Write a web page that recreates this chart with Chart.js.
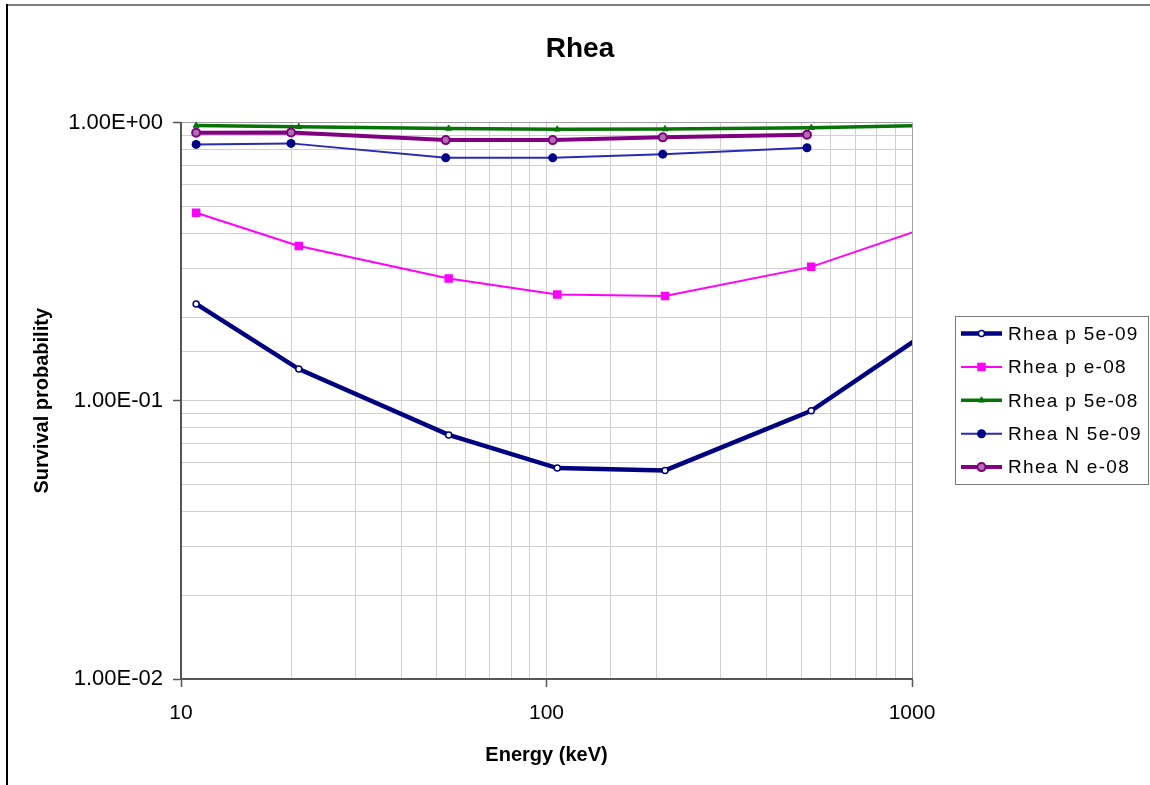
<!DOCTYPE html>
<html>
<head>
<meta charset="utf-8">
<script src="https://cdn.jsdelivr.net/npm/chart.js@4.4.1/dist/chart.umd.min.js"></script>
<style>
  html, body { margin: 0; padding: 0; background: #fff; }
  #wrap { width: 1150px; height: 785px; position: relative; }
</style>
</head>
<body>
<div id="wrap"><canvas id="c" width="1150" height="785"></canvas></div>
<script>
// ---- data ----
const energyP = [11, 21, 54, 107, 211, 530, 1070];
const pSurv5e09 = [0.223, 0.130, 0.0754, 0.0573, 0.0562, 0.092, 0.172];
const pSurv1e08 = [0.474, 0.360, 0.275, 0.241, 0.238, 0.303, 0.415];
const pSurv5e08 = [0.976, 0.966, 0.953, 0.946, 0.948, 0.958, 0.975];
const energyN = [11, 20, 53, 104, 208, 516];
const nSurv5e09 = [0.835, 0.842, 0.747, 0.747, 0.770, 0.812];
const nSurv1e08 = [0.919, 0.922, 0.865, 0.865, 0.885, 0.904];
const seriesNames = ['Rhea p 5e-09', 'Rhea p e-08', 'Rhea p 5e-08', 'Rhea N 5e-09', 'Rhea N e-08'];
const xTickLabels = [10, 100, 1000];
const yTickLabels = [0.01, 0.1, 1];

const FONT = '"Liberation Sans", Arial, Helvetica, sans-serif';
const pts = (xs, ys) => xs.map((x, i) => ({ x: x, y: ys[i] }));
const isMajor = v => Math.abs(Math.log10(v) - Math.round(Math.log10(v))) < 1e-6;
function fmtE(v) {
  const e = Math.round(Math.log10(v));
  const m = v / Math.pow(10, e);
  return m.toFixed(2) + 'E' + (e < 0 ? '-' : '+') + String(Math.abs(e)).padStart(2, '0');
}
const clipArea = { left: 10, top: 10, right: 0, bottom: 10 };

const datasets = [
  { label: seriesNames[0], data: pts(energyP, pSurv5e09), borderColor: '#000080', borderWidth: 4.5,
    pointStyle: 'circle', pointRadius: 3, pointBorderWidth: 1.5, pointBackgroundColor: '#ffffff', pointBorderColor: '#000080', order: 5 },
  { label: seriesNames[1], data: pts(energyP, pSurv1e08), borderColor: '#FF00FF', borderWidth: 2,
    pointStyle: 'rect', pointRadius: 6, pointBorderWidth: 0, pointBackgroundColor: '#FF00FF', pointBorderColor: '#FF00FF', order: 4 },
  { label: seriesNames[2], data: pts(energyP, pSurv5e08), borderColor: '#087408', borderWidth: 3.5,
    pointStyle: 'triangle', pointRadius: 3.5, pointBorderWidth: 1, pointBackgroundColor: '#087408', pointBorderColor: '#087408', order: 3 },
  { label: seriesNames[3], data: pts(energyN, nSurv5e09), borderColor: '#2a2ab4', borderWidth: 2,
    pointStyle: 'circle', pointRadius: 4.5, pointBorderWidth: 0, pointBackgroundColor: '#00008B', pointBorderColor: '#00008B', order: 2 },
  { label: seriesNames[4], data: pts(energyN, nSurv1e08), borderColor: '#800080', borderWidth: 4,
    pointStyle: 'circle', pointRadius: 4, pointBorderWidth: 2, pointBackgroundColor: '#b070b0', pointBorderColor: '#800080', order: 1 }
];
datasets.forEach(d => { d.fill = false; d.tension = 0; d.clip = clipArea; d.pointHoverRadius = d.pointRadius; });

const frame = {
  id: 'frame',
  beforeDraw(chart) {
    const ctx = chart.ctx;
    ctx.save();
    ctx.fillStyle = '#ffffff';
    ctx.fillRect(0, 0, chart.width, chart.height);
    ctx.strokeStyle = '#808080';
    ctx.lineWidth = 2;
    ctx.beginPath(); ctx.moveTo(6, 5); ctx.lineTo(chart.width, 5); ctx.stroke();
    ctx.strokeStyle = '#000000';
    ctx.beginPath(); ctx.moveTo(7, 4); ctx.lineTo(7, chart.height); ctx.stroke();
    ctx.restore();
  }
};

function drawMarker(ctx, ds, x, y) {
  const r = ds.pointRadius;
  ctx.save();
  ctx.fillStyle = ds.pointBackgroundColor;
  ctx.strokeStyle = ds.pointBorderColor;
  ctx.lineWidth = ds.pointBorderWidth;
  ctx.beginPath();
  if (ds.pointStyle === 'rect') {
    const s = Math.SQRT1_2 * r;
    ctx.rect(x - s, y - s, 2 * s, 2 * s);
  } else if (ds.pointStyle === 'triangle') {
    ctx.moveTo(x, y - r);
    ctx.lineTo(x + r * 0.866, y + r * 0.5);
    ctx.lineTo(x - r * 0.866, y + r * 0.5);
    ctx.closePath();
  } else {
    ctx.arc(x, y, r, 0, Math.PI * 2);
  }
  ctx.fill();
  if (ds.pointBorderWidth > 0) ctx.stroke();
  ctx.restore();
}

const boxLegend = {
  id: 'boxLegend',
  afterDraw(chart) {
    const ctx = chart.ctx;
    const dsets = chart.data.datasets;
    const bx = 955, by = 316, bw = 193, bh = 168;
    ctx.save();
    ctx.strokeStyle = '#7a7a7a';
    ctx.lineWidth = 1;
    ctx.strokeRect(bx + 0.5, by + 0.5, bw, bh);
    ctx.font = '19px ' + FONT;
    ctx.textBaseline = 'middle';
    ctx.fillStyle = '#000';
    try { ctx.letterSpacing = '1.3px'; } catch (e) {}
    dsets.forEach((ds, i) => {
      const y = 333.5 + i * 33.4;
      ctx.strokeStyle = ds.borderColor;
      ctx.lineWidth = ds.borderWidth;
      ctx.beginPath(); ctx.moveTo(961, y); ctx.lineTo(1002, y); ctx.stroke();
      drawMarker(ctx, ds, 981.5, y);
      ctx.fillStyle = '#000';
      ctx.fillText(ds.label, 1008, y + 1);
    });
    ctx.restore();
  }
};

new Chart(document.getElementById('c'), {
  type: 'line',
  data: { datasets: datasets },
  plugins: [frame, boxLegend],
  options: {
    responsive: false,
    animation: false,
    events: [],
    layout: { padding: { left: 10, right: 0, top: 0, bottom: 6 } },
    plugins: {
      legend: { display: false },
      tooltip: { enabled: false },
      title: {
        display: true, text: 'Rhea', color: '#000',
        font: { family: FONT, size: 28, weight: 'bold' },
        padding: { top: 32, bottom: 57 }
      }
    },
    scales: {
      x: {
        type: 'logarithmic', position: 'bottom', min: 10, max: 1000,
        afterFit(s) { s.height = 100; },
        border: { display: true, color: '#555555', width: 2 },
        grid: {
          color: c => (c.tick && c.tick.value === 1000) ? '#a0a0a0' : '#d0d0d0',
          lineWidth: 1,
          tickLength: 8,
          tickWidth: 1.5,
          tickColor: c => (c.tick && isMajor(c.tick.value)) ? '#555555' : 'rgba(0,0,0,0)'
        },
        ticks: {
          autoSkip: false, maxRotation: 0, minRotation: 0, padding: 14, color: '#000',
          font: { family: FONT, size: 21 },
          callback: v => (xTickLabels.some(t => Math.abs(t - v) < 1e-6) ? String(v) : '')
        },
        title: {
          display: true, text: 'Energy (keV)', color: '#000',
          font: { family: FONT, size: 20, weight: 'bold' },
          padding: { top: 0, bottom: 12 }
        }
      },
      y: {
        type: 'logarithmic', position: 'left', min: 0.01, max: 1,
        afterFit(s) { s.width = 171; },
        border: { display: true, color: '#555555', width: 2 },
        grid: {
          color: c => (c.tick && Math.abs(c.tick.value - 1) < 1e-9) ? '#a0a0a0' : '#d0d0d0',
          lineWidth: 1,
          tickLength: 8,
          tickWidth: 1.5,
          tickColor: c => (c.tick && isMajor(c.tick.value)) ? '#555555' : 'rgba(0,0,0,0)'
        },
        ticks: {
          autoSkip: false, padding: 10, color: '#000',
          font: { family: FONT, size: 22 },
          callback: v => (yTickLabels.some(t => Math.abs(t - v) < 1e-9) ? fmtE(v) : '')
        },
        title: {
          display: true, text: 'Survival probability', color: '#000',
          font: { family: FONT, size: 20, weight: 'bold' },
          padding: { top: 20, bottom: 0 }
        }
      },
      yR: {
        type: 'linear', position: 'right', display: true,
        afterFit(s) { s.width = 238; },
        border: { display: false },
        grid: { display: false, drawTicks: false },
        ticks: { display: false }
      }
    }
  }
});
</script>
</body>
</html>
